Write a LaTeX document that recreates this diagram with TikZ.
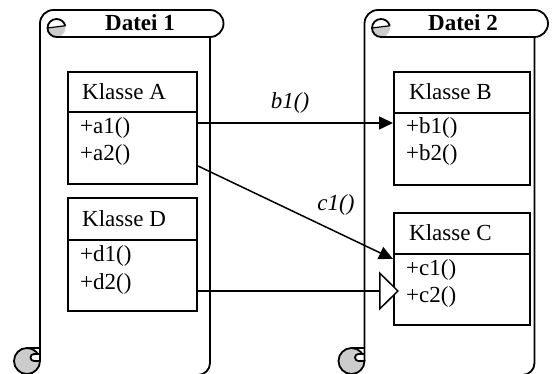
\documentclass[tikz,border=0pt]{standalone}
\usepackage{fontspec}
\setmainfont{Liberation Serif}
\usetikzlibrary{arrows.meta}
\definecolor{curlgrey}{HTML}{CCCCCC}
\begin{document}
\begin{tikzpicture}[x=1pt,y=1pt,
  scrollline/.style={line width=1.8pt, line join=round},
  classbox/.style={draw, line width=2pt, rectangle, inner sep=0pt, anchor=north west, minimum width=129pt},
  divider/.style={line width=2pt},
  ctext/.style={anchor=west, inner sep=0pt, font=\fontsize{23}{23}\selectfont},
  htext/.style={inner sep=0pt, font=\bfseries\fontsize{23}{23}\selectfont},
  ltext/.style={inner sep=0pt, font=\itshape\fontsize{23}{23}\selectfont},
  flow/.style={line width=1.5pt, -{Triangle[length=14pt,width=13pt]}},
  gen/.style={line width=1.5pt, -{Triangle[length=20pt,width=39pt,fill=white]}},
  scrollpic/.pic={
    % bottom curl
    \fill[curlgrey] (27,13) circle (13);
    \draw[scrollline] (27,13) circle (13);
    \draw[scrollline] (27,26) -- (40,26);
    \draw[scrollline, fill=white] (40,20) -- (34,20) arc (90:270:3.5) -- (40,13);
    % top curl grey
    \fill[curlgrey] (47.5,346) arc (180:375:9) -- cycle;
    \draw[line width=1.2pt] (65.7,348.3) -- (47.5,346);
    % outline
    \draw[scrollline] (40,13) -- (40,350.5) arc (180:90:13.5) -- (210,364)
       arc (90:-90:13.5) -- (56.5,337) arc (270:15:9);
    \draw[scrollline] (210,337) -- (210,11) arc (0:-90:12) -- (27,-1);
  }
]
\useasboundingbox (0,0) rectangle (553,374);
\fill[white] (0,0) rectangle (553,374);

\pic at (0,0) {scrollpic};
\pic at (324.5,0) {scrollpic};

\node[htext] (h1) at (140,351) {Datei 1};
\node[htext] (h2) at (463,351) {Datei 2};

% Klasse A
\node[classbox, minimum height=112pt] (A) at (67,303) {};
\draw[divider] (A.west |- 0,262) -- (A.east |- 0,262);
\node[ctext] (An) at (82,282.5) {Klasse A};
\node[ctext] (a1) at (80,246) {+a1()};
\node[ctext] (a2) at (80,219) {+a2()};

% Klasse D
\node[classbox, minimum height=113pt] (D) at (67,177) {};
\draw[divider] (D.west |- 0,134) -- (D.east |- 0,134);
\node[ctext] (Dn) at (82,155.5) {Klasse D};
\node[ctext] (d1) at (80,118) {+d1()};
\node[ctext] (d2) at (80,90) {+d2()};

% Klasse B
\node[classbox, minimum width=136pt, minimum height=113pt] (B) at (393,303) {};
\draw[divider] (B.west |- 0,261) -- (B.east |- 0,261);
\node[ctext] (Bn) at (409,282) {Klasse B};
\node[ctext] (b1) at (406,246) {+b1()};
\node[ctext] (b2) at (406,219) {+b2()};

% Klasse C
\node[classbox, minimum width=136pt, minimum height=112pt] (C) at (393,162) {};
\draw[divider] (C.west |- 0,120) -- (C.east |- 0,120);
\node[ctext] (Cn) at (409,141) {Klasse C};
\node[ctext] (c1) at (406,104) {+c1()};
\node[ctext] (c2) at (406,77) {+c2()};

% connectors
\draw[flow] (A.east |- 0,251) -- (B.west |- 0,251);
\node[ltext] (lb1) at (290,271) {b1()};
\draw[flow] (A.east |- 0,208) -- (C.west |- 0,115);
\node[ltext] (lc1) at (336,169) {c1()};
\draw[gen] (D.east |- 0,83) -- ([xshift=6pt]C.west |- 0,83);
\end{tikzpicture}
\end{document}
